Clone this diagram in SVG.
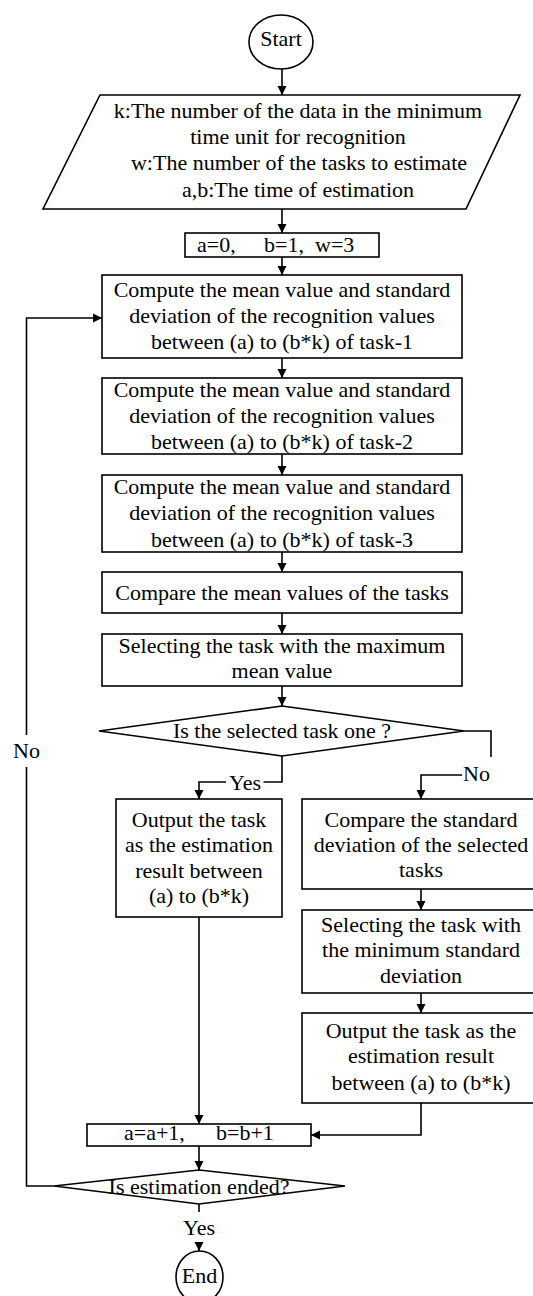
<svg xmlns="http://www.w3.org/2000/svg" width="533" height="1296" viewBox="0 0 533 1296" font-family="'Liberation Serif', 'Times New Roman', serif">
<defs>
<marker id="arr" markerUnits="userSpaceOnUse" viewBox="0 0 10 10" refX="10" refY="5" markerWidth="9" markerHeight="10" orient="auto">
<path d="M0,0 L10,5 L0,10 z" fill="#000"/>
</marker>
</defs>
<style>
.s{fill:#fff;stroke:#000;stroke-width:1.6}
.c{fill:none;stroke:#000;stroke-width:1.6}
.a{marker-end:url(#arr)}
.t{font-family:'Liberation Serif','Times New Roman',serif;font-size:22px;fill:#000}
.m{text-anchor:middle}
</style>
<rect width="533" height="1296" fill="#fff"/>
<g id="connectors">
<line class="c a" x1="282" y1="69" x2="282" y2="95"/>
<line class="c a" x1="282" y1="209" x2="282" y2="233"/>
<line class="c a" x1="282" y1="257" x2="282" y2="275"/>
<line class="c a" x1="282" y1="358" x2="282" y2="378"/>
<line class="c a" x1="282" y1="454" x2="282" y2="475"/>
<line class="c a" x1="282" y1="552" x2="282" y2="572"/>
<line class="c a" x1="282" y1="613" x2="282" y2="634"/>
<line class="c a" x1="282" y1="686" x2="282" y2="706"/>
<polyline class="c" points="282,756 282,782 263.5,782"/>
<polyline class="c a" points="226,782 199,782 199,799"/>
<polyline class="c" points="464,731 491,731 491,757"/>
<polyline class="c a" points="462,775 421,775 421,799"/>
<line class="c a" x1="421" y1="889" x2="421" y2="910"/>
<line class="c a" x1="421" y1="993" x2="421" y2="1013"/>
<line class="c a" x1="199" y1="917" x2="199" y2="1124"/>
<polyline class="c a" points="421,1103 421,1135 311,1135"/>
<line class="c a" x1="199" y1="1146" x2="199" y2="1170"/>
<line class="c" x1="199" y1="1204" x2="199" y2="1212"/>
<line class="c a" x1="199" y1="1243" x2="199" y2="1251"/>
<polyline class="c" points="54,1186 26.5,1186 26.5,767"/>
<polyline class="c a" points="26.5,735 26.5,318 102,318"/>
<text class="t m" x="245" y="790">Yes</text>
<text class="t" x="463" y="781">No</text>
<text class="t m" x="26.5" y="758">No</text>
<text class="t m" x="199" y="1235">Yes</text>
</g>
<g id="start">
<ellipse class="s" cx="281" cy="42" rx="32" ry="27"/>
<text class="t m" x="281" y="46">Start</text>
</g>
<g id="input">
<polygon class="s" points="100,95 520,95 466,209 43,209"/>
<text class="t m" x="298" y="118">k:The number of the data in the minimum</text>
<text class="t m" x="298" y="144">time unit for recognition</text>
<text class="t m" x="299" y="170">w:The number of the tasks to estimate</text>
<text class="t m" x="298" y="197">a,b:The time of estimation</text>
</g>
<g id="init">
<rect class="s" x="185" y="233" width="194" height="24"/>
<text class="t" x="197" y="252">a=0,</text>
<text class="t" x="264" y="252">b=1,</text>
<text class="t" x="315" y="252">w=3</text>
</g>
<g id="task1">
<rect class="s" x="102" y="275" width="360" height="83"/>
<text class="t m" x="282" y="297">Compute the mean value and standard</text>
<text class="t m" x="282" y="323">deviation of the recognition values</text>
<text class="t m" x="282" y="349">between (a) to (b*k) of task-1</text>
</g>
<g id="task2">
<rect class="s" x="102" y="378" width="360" height="76"/>
<text class="t m" x="282" y="397">Compute the mean value and standard</text>
<text class="t m" x="282" y="423">deviation of the recognition values</text>
<text class="t m" x="282" y="449">between (a) to (b*k) of task-2</text>
</g>
<g id="task3">
<rect class="s" x="102" y="475" width="360" height="77"/>
<text class="t m" x="282" y="494">Compute the mean value and standard</text>
<text class="t m" x="282" y="520">deviation of the recognition values</text>
<text class="t m" x="282" y="547">between (a) to (b*k) of task-3</text>
</g>
<g id="compare">
<rect class="s" x="102" y="572" width="360" height="41"/>
<text class="t m" x="282" y="600">Compare the mean values of the tasks</text>
</g>
<g id="selectmax">
<rect class="s" x="102" y="634" width="360" height="52"/>
<text class="t m" x="282" y="653">Selecting the task with the maximum</text>
<text class="t m" x="282" y="678">mean value</text>
</g>
<g id="decision1">
<polygon class="s" points="282,706 464,731 282,756 99,731"/>
<text class="t m" x="282" y="738">Is the selected task one ?</text>
</g>
<g id="outyes">
<rect class="s" x="116" y="799" width="166" height="118"/>
<text class="t m" x="199" y="827">Output the task</text>
<text class="t m" x="199" y="852">as the estimation</text>
<text class="t m" x="199" y="878">result between</text>
<text class="t m" x="199" y="903">(a) to (b*k)</text>
</g>
<g id="comparestd">
<rect class="s" x="302" y="799" width="240" height="90"/>
<text class="t m" x="421" y="827">Compare the standard</text>
<text class="t m" x="421" y="852">deviation of the selected</text>
<text class="t m" x="421" y="877">tasks</text>
</g>
<g id="selectmin">
<rect class="s" x="302" y="910" width="240" height="83"/>
<text class="t m" x="421" y="932">Selecting the task with</text>
<text class="t m" x="421" y="957">the minimum standard</text>
<text class="t m" x="421" y="983">deviation</text>
</g>
<g id="outno">
<rect class="s" x="302" y="1013" width="240" height="90"/>
<text class="t m" x="421" y="1038">Output the task as the</text>
<text class="t m" x="421" y="1063">estimation result</text>
<text class="t m" x="421" y="1090">between (a) to (b*k)</text>
</g>
<g id="update">
<rect class="s" x="87" y="1124" width="224" height="22"/>
<text class="t" x="124" y="1140">a=a+1,</text>
<text class="t" x="216" y="1140">b=b+1</text>
</g>
<g id="decision2">
<polygon class="s" points="199,1170 345,1186 199,1204 54,1186"/>
<text class="t m" x="199" y="1194">Is estimation ended?</text>
</g>
<g id="end">
<ellipse class="s" cx="199.5" cy="1277" rx="23.5" ry="26"/>
<text class="t m" x="199.5" y="1283">End</text>
</g>
</svg>
